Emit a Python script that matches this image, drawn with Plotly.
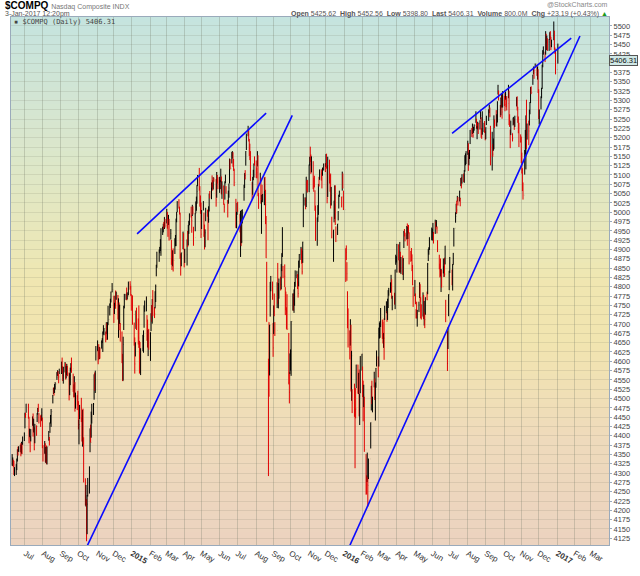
import numpy as np
import pandas as pd
import plotly.graph_objects as go

# daily bars, one row per week (Mon..Fri), None = market holiday
close_rows = [
    [4336, 4338, 4331, 4297, 4310], [4321, 4337, 4362, 4359, 4368], [4368, 4350, 4380, 4379, 4398],
    [4408, 4458, 4457, 4486, None], [4451, 4392, 4419, 4397, 4416], [4441, 4417, 4426, 4364, 4432],
    [4425, 4457, 4473, 4472, 4449], [4444, 4442, 4463, 4370, 4352], [4384, 4353, 4356, 4335, 4371],
    [4401, 4390, 4434, 4454, 4465], [4508, 4528, 4527, 4532, 4539], [4557, 4570, 4569, 4558, 4580],
    [None, 4598, 4572, 4562, 4583], [4593, 4552, 4586, 4591, 4568], [4518, 4553, 4562, 4593, 4580],
    [4528, 4508, 4556, 4467, 4512], [4506, 4493, 4422, 4430, 4475], [4455, 4385, 4468, 4379, 4276],
    [4214, 4228, 4215, 4217, 4258], [4316, 4419, 4382, 4452, 4483], [4485, 4564, 4549, 4566, 4631],
    [4639, 4624, 4620, 4638, 4633], [4651, 4661, 4675, 4680, 4688], [4671, 4702, 4675, 4702, 4712],
    [4755, 4758, 4787, None, 4792], [4727, 4755, 4774, 4769, 4781], [4740, 4766, 4684, 4708, 4653],
    [4605, 4547, 4645, 4749, 4765], [4781, 4765, 4774, None, 4807], [4806, 4777, 4736, None, 4726],
    # 2015
    [4652, 4593, 4650, 4736, 4704], [4664, 4662, 4639, 4570, 4634], [None, 4654, 4667, 4750, 4758],
    [4771, 4681, 4638, 4683, 4635], [4676, 4727, 4716, 4765, 4744], [4727, 4788, 4801, 4858, 4893],
    [None, 4899, 4906, 4924, 4956], [4960, 4968, 4967, 4987, 4964], [5008, 4980, 4967, 4983, 4928],
    [4943, 4860, 4849, 4894, 4871], [4930, 4937, 4982, 4993, 5026], [5011, 4995, 4876, 4863, 4891],
    [4947, 4901, 4880, 4886, None], [4917, 4910, 4950, 4974, 4996], [4988, 4977, 5011, 5008, 4932],
    [4995, 5014, 5036, 5056, 5092], [5060, 5055, 5024, 4941, 5005], [5016, 4940, 4920, 4945, 5003],
    [4993, 4976, 4981, 5050, 5048], [5078, 5071, 5071, 5090, 5089], [None, 5033, 5107, 5098, 5070],
    [5082, 5082, 5099, 5059, 5068], [5022, 5014, 5077, 5083, 5051], [5030, 5056, 5065, 5133, 5117],
    [5153, 5161, 5123, 5112, 5080], [4958, 4987, 5013, 5009, None], [4992, 4998, 4910, 4922, 4998],
    [5072, 5105, 5099, 5163, 5211], [5219, 5208, 5172, 5147, 5089], [5040, 5089, 5111, 5129, 5128],
    [5116, 5106, 5140, 5057, 5044], [5102, 5037, 5044, 5034, 5048], [5092, 5060, 5020, 4877, 4706],
    [4526, 4506, 4697, 4812, 4828], [4777, 4636, 4750, 4733, 4683], [None, 4812, 4757, 4796, 4822],
    [4806, 4861, 4890, 4893, 4828], [4828, 4757, 4752, 4734, 4687], [4543, 4517, 4620, 4627, 4707],
    [4781, 4748, 4791, 4811, 4830], [4838, 4796, 4782, 4870, 4887], [4906, 4880, 4840, 4920, 5031],
    [5034, 5030, 5095, 5075, 5054], [5128, 5145, 5142, 5127, 5147], [5095, 5083, 5067, 5005, 4927],
    [4984, 4987, 5075, 5073, 5105], [5102, 5102, 5116, None, 5128], [5109, 5156, 5123, 5037, 5142],
    [5101, 5099, 5023, 5045, 4933], [4953, 4995, 5071, 4968, 4923], [4969, 5002, 5046, 5048, None],
    [5041, 5107, 5065, 5007, None],
    # 2016
    [4903, 4892, 4835, 4689, 4644], [4637, 4685, 4526, 4615, 4488], [None, 4476, 4472, 4472, 4591],
    [4518, 4567, 4469, 4507, 4614], [4620, 4516, 4504, 4509, 4363], [4283, 4269, 4284, 4267, 4338],
    [None, 4436, 4534, 4487, 4504], [4570, 4503, 4542, 4582, 4590], [4558, 4690, 4703, 4707, 4717],
    [4708, 4649, 4675, 4662, 4748], [4750, 4729, 4764, 4775, 4796], [4808, 4822, 4768, 4773, None],
    [4767, 4846, 4869, 4870, 4914], [4892, 4843, 4920, 4849, 4851], [4834, 4872, 4947, 4946, 4938],
    [4961, 4941, 4948, 4945, 4906], [4896, 4888, 4863, 4806, 4775], [4818, 4763, 4726, 4718, 4737],
    [4751, 4810, 4760, 4737, 4718], [4775, 4716, 4739, 4712, 4770], [4765, 4861, 4895, 4901, 4933],
    [None, 4948, 4952, 4971, 4943], [4968, 4962, 4974, 4958, 4895], [4848, 4843, 4835, 4844, 4800],
    [4837, 4843, 4834, 4910, 4708], [4594, 4691, 4779, 4843, 4863], [None, 4822, 4859, 4876, 4957],
    [4989, 5023, 5006, 5035, 5030], [5056, 5037, 5089, 5074, 5101], [5098, 5111, 5140, 5155, 5162],
    [5185, 5137, 5159, 5167, 5221], [5213, 5225, 5205, 5228, 5233], [5262, 5227, 5229, 5240, 5238],
    [5244, 5260, 5217, 5212, 5219], [5232, 5222, 5213, 5227, 5250], [None, 5276, 5283, 5260, 5126],
    [5211, 5156, 5174, 5250, 5245], [5236, 5241, 5295, 5339, 5305], [5257, 5306, 5319, 5269, 5312],
    [5300, 5289, 5316, 5306, 5292], [5329, 5246, 5240, 5213, 5214], [5199, 5244, 5246, 5241, 5258],
    [5309, 5283, 5250, 5215, 5190], [5189, 5153, 5105, 5058, 5046], [5166, 5193, 5251, 5209, 5237],
    [5218, 5275, 5294, 5334, 5321], [5368, 5386, 5380, None, 5398], [5368, 5379, 5323, 5252, 5256],
    [5309, 5333, 5394, 5417, 5444], [5412, 5463, 5437, 5456, 5437], [5457, 5483, 5471, 5447, 5462],
    [None, 5487, 5438, 5433, 5383],
    # 2017
    [None, 5406.31],
]

high_rows = [
    [4351, 4342, 4336, 4333, 4316], [4324, 4339, 4364, 4371, 4372], [4376, 4380, 4384, 4380, 4398],
    [4409, 4462, 4462, 4486, None], [4486, 4451, 4419, 4400, 4418], [4452, 4460, 4446, 4423, 4432],
    [4428, 4461, 4475, 4486, 4461], [4455, 4457, 4474, 4449, 4375], [4386, 4380, 4370, 4374, 4371],
    [4413, 4397, 4436, 4456, 4472], [4510, 4529, 4530, 4539, 4544], [4571, 4576, 4574, 4566, 4580],
    [None, 4599, 4610, 4587, 4585], [4598, 4595, 4587, 4593, 4588], [4570, 4568, 4583, 4595, 4610],
    [4567, 4538, 4560, 4544, 4516], [4509, 4521, 4493, 4443, 4483], [4502, 4450, 4470, 4473, 4396],
    [4286, 4268, 4230, 4241, 4287], [4318, 4420, 4430, 4465, 4486], [4488, 4565, 4570, 4575, 4641],
    [4656, 4630, 4646, 4638, 4637], [4656, 4662, 4680, 4697, 4689], [4680, 4705, 4702, 4705, 4749],
    [4755, 4768, 4787, None, 4810], [4776, 4757, 4776, 4790, 4787], [4778, 4769, 4758, 4752, 4703],
    [4680, 4620, 4666, 4749, 4781], [4781, 4798, 4785, None, 4814], [4815, 4803, 4780, None, 4777],
    # 2015
    [4704, 4664, 4651, 4736, 4744], [4715, 4750, 4655, 4652, 4635], [None, 4671, 4683, 4750, 4763],
    [4774, 4724, 4712, 4684, 4687], [4678, 4729, 4751, 4767, 4791], [4746, 4788, 4806, 4859, 4894],
    [None, 4900, 4907, 4928, 4957], [4961, 4969, 4974, 4987, 4982], [5009, 5001, 4970, 4993, 4982],
    [4955, 4926, 4877, 4898, 4903], [4930, 4939, 4983, 5001, 5030], [5035, 5015, 4999, 4889, 4892],
    [4948, 4944, 4901, 4902, None], [4927, 4950, 4966, 4977, 4997], [5015, 4992, 5020, 5016, 4961],
    [4998, 5029, 5042, 5073, 5100], [5119, 5070, 5045, 5026, 5006], [5030, 4999, 4967, 4954, 5012],
    [5007, 4990, 5016, 5050, 5057], [5080, 5099, 5086, 5094, 5093], [None, 5089, 5108, 5100, 5094],
    [5095, 5087, 5117, 5096, 5083], [5072, 5023, 5083, 5101, 5070], [5033, 5058, 5077, 5144, 5143],
    [5162, 5164, 5161, 5143, 5117], [5036, 5001, 5025, 5028, None], [4996, 5004, 4975, 5006, 5008],
    [5074, 5105, 5113, 5164, 5211], [5232, 5221, 5197, 5184, 5164], [5081, 5095, 5114, 5131, 5150],
    [5139, 5120, 5164, 5153, 5052], [5106, 5093, 5047, 5074, 5049], [5093, 5095, 5060, 4990, 4867],
    [4607, 4705, 4698, 4813, 4829], [4814, 4703, 4750, 4782, 4705], [None, 4812, 4864, 4810, 4822],
    [4827, 4861, 4890, 4960, 4856], [4860, 4799, 4787, 4745, 4780], [4676, 4571, 4621, 4632, 4708],
    [4782, 4782, 4793, 4813, 4844], [4843, 4834, 4814, 4870, 4888], [4907, 4903, 4897, 4921, 5050],
    [5040, 5039, 5095, 5085, 5087], [5128, 5149, 5176, 5155, 5150], [5137, 5093, 5098, 5059, 5018],
    [4986, 5019, 5076, 5095, 5115], [5115, 5107, 5120, None, 5131], [5132, 5156, 5157, 5126, 5149],
    [5141, 5100, 5104, 5068, 4988], [4953, 5031, 5072, 5072, 4962], [4969, 5003, 5047, 5058, None],
    [5042, 5109, 5104, 5058, None],
    # 2016
    [4903, 4911, 4866, 4788, 4742], [4683, 4713, 4698, 4628, 4525], [None, 4540, 4472, 4528, 4591],
    [4591, 4569, 4578, 4513, 4614], [4620, 4586, 4548, 4537, 4505], [4351, 4294, 4355, 4289, 4339],
    [None, 4436, 4534, 4548, 4505], [4572, 4554, 4543, 4582, 4629], [4613, 4690, 4704, 4708, 4743],
    [4712, 4706, 4676, 4715, 4749], [4761, 4735, 4768, 4791, 4797], [4812, 4832, 4820, 4776, None],
    [4784, 4846, 4886, 4882, 4915], [4914, 4872, 4920, 4894, 4880], [4884, 4877, 4950, 4955, 4945],
    [4963, 4970, 4961, 4966, 4946], [4896, 4904, 4887, 4859, 4800], [4818, 4782, 4740, 4760, 4738],
    [4760, 4812, 4807, 4772, 4753], [4785, 4778, 4762, 4731, 4772], [4787, 4864, 4901, 4906, 4933],
    [None, 4959, 4956, 4971, 4947], [4980, 4975, 4979, 4962, 4925], [4886, 4862, 4876, 4848, 4845],
    [4876, 4856, 4878, 4910, 4765], [4682, 4691, 4780, 4843, 4880], [None, 4846, 4861, 4891, 4958],
    [5000, 5023, 5031, 5044, 5041], [5058, 5039, 5092, 5094, 5102], [5104, 5113, 5153, 5158, 5164],
    [5192, 5185, 5160, 5167, 5221], [5226, 5238, 5230, 5229, 5236], [5271, 5251, 5231, 5243, 5240],
    [5247, 5275, 5255, 5226, 5271], [5240, 5245, 5219, 5228, 5259], [None, 5276, 5289, 5281, 5232],
    [5216, 5183, 5198, 5260, 5249], [5274, 5263, 5298, 5342, 5327], [5288, 5308, 5319, 5316, 5325],
    [5312, 5320, 5324, 5308, 5312], [5342, 5326, 5263, 5222, 5246], [5212, 5254, 5256, 5251, 5259],
    [5309, 5311, 5283, 5257, 5240], [5209, 5203, 5160, 5118, 5080], [5167, 5221, 5260, 5302, 5238],
    [5246, 5275, 5296, 5336, 5338], [5369, 5391, 5387, None, 5399], [5396, 5391, 5384, 5330, 5276],
    [5311, 5334, 5396, 5435, 5445], [5431, 5486, 5479, 5474, 5467], [5465, 5483, 5486, 5471, 5463],
    [None, 5512, 5487, 5442, 5437],
    # 2017
    [None, 5452.56],
]

low_rows = [
    [4320, 4319, 4316, 4295, 4292], [4295, 4308, 4331, 4347, 4357], [4356, 4345, 4352, 4351, 4376],
    [4386, 4420, 4448, 4462, None], [4446, 4380, 4396, 4356, 4385], [4427, 4398, 4409, 4361, 4380],
    [4400, 4437, 4457, 4464, 4433], [4424, 4439, 4441, 4367, 4331], [4352, 4329, 4327, 4324, 4323],
    [4387, 4374, 4408, 4433, 4424], [4487, 4512, 4508, 4515, 4524], [4550, 4561, 4560, 4541, 4566],
    [None, 4566, 4569, 4547, 4540], [4570, 4551, 4554, 4563, 4560], [4495, 4509, 4536, 4573, 4569],
    [4518, 4503, 4504, 4465, 4473], [4469, 4482, 4417, 4377, 4444], [4437, 4385, 4371, 4377, 4275],
    [4213, 4210, 4117, 4136, 4237], [4245, 4356, 4382, 4395, 4433], [4456, 4497, 4521, 4515, 4602],
    [4627, 4592, 4603, 4606, 4607], [4634, 4649, 4625, 4672, 4670], [4651, 4673, 4657, 4658, 4697],
    [4723, 4743, 4758, None, 4785], [4703, 4727, 4748, 4741, 4765], [4712, 4663, 4684, 4700, 4653],
    [4595, 4547, 4548, 4684, 4742], [4765, 4764, 4766, None, 4777], [4792, 4776, 4736, None, 4698],
    # 2015
    [4642, 4567, 4613, 4687, 4684], [4645, 4636, 4567, 4570, 4563], [None, 4627, 4623, 4690, 4733],
    [4734, 4655, 4637, 4614, 4631], [4601, 4681, 4706, 4701, 4721], [4716, 4742, 4759, 4828, 4851],
    [None, 4867, 4890, 4896, 4883], [4939, 4946, 4955, 4955, 4959], [4970, 4956, 4934, 4966, 4924],
    [4927, 4859, 4845, 4855, 4841], [4888, 4909, 4909, 4973, 5000], [5010, 4994, 4875, 4830, 4855],
    [4901, 4900, 4852, 4864, None], [4857, 4907, 4911, 4942, 4965], [4986, 4945, 4990, 4994, 4910],
    [4949, 4997, 5004, 5023, 5070], [5058, 5015, 4996, 4931, 4955], [5005, 4934, 4900, 4906, 4976],
    [4988, 4925, 4972, 5002, 5037], [5035, 5066, 5058, 5061, 5082], [None, 5015, 5039, 5077, 5062],
    [5052, 5062, 5081, 5048, 5036], [5020, 4999, 5034, 5078, 5050], [4986, 5023, 5039, 5077, 5115],
    [5131, 5144, 5122, 5111, 5070], [4958, 4957, 4993, 5001, None], [4946, 4880, 4910, 4917, 4970],
    [5031, 5065, 5088, 5125, 5167], [5204, 5190, 5151, 5140, 5084], [5033, 5047, 5086, 5093, 5125],
    [5092, 5091, 5123, 5043, 5009], [5081, 5023, 4942, 5032, 5027], [5019, 5057, 4968, 4877, 4706],
    [4292, 4506, 4562, 4720, 4788], [4765, 4612, 4673, 4721, 4668], [None, 4743, 4754, 4742, 4768],
    [4790, 4793, 4842, 4880, 4823], [4799, 4724, 4737, 4687, 4684], [4538, 4487, 4566, 4575, 4561],
    [4736, 4736, 4730, 4749, 4800], [4823, 4794, 4771, 4801, 4851], [4872, 4862, 4833, 4864, 4960],
    [5018, 5008, 5014, 5058, 5053], [5054, 5125, 5135, 5103, 5107], [5062, 5055, 5067, 5004, 4923],
    [4910, 4974, 4993, 5069, 5087], [5085, 5064, 5098, None, 5112], [5108, 5122, 5117, 5024, 5041],
    [5077, 5055, 5010, 5018, 4930], [4867, 4973, 4982, 4966, 4920], [4939, 4978, 5010, 5041, None],
    [5013, 5058, 5064, 5006, None],
    # 2016
    [4813, 4872, 4816, 4689, 4637], [4605, 4642, 4519, 4494, 4461], [None, 4451, 4313, 4447, 4528],
    [4513, 4512, 4452, 4429, 4514], [4575, 4504, 4439, 4477, 4357], [4242, 4243, 4276, 4210, 4284],
    [None, 4366, 4468, 4485, 4463], [4530, 4496, 4441, 4529, 4586], [4557, 4586, 4661, 4663, 4692],
    [4660, 4648, 4636, 4604, 4711], [4729, 4706, 4711, 4743, 4776], [4784, 4789, 4768, 4737, None],
    [4752, 4740, 4859, 4865, 4838], [4871, 4838, 4838, 4838, 4834], [4832, 4818, 4904, 4935, 4922],
    [4927, 4910, 4928, 4943, 4860], [4867, 4869, 4842, 4804, 4746], [4775, 4753, 4715, 4715, 4693],
    [4732, 4770, 4760, 4715, 4712], [4720, 4713, 4696, 4689, 4725], [4764, 4780, 4869, 4886, 4899],
    [None, 4925, 4924, 4944, 4916], [4942, 4954, 4960, 4943, 4893], [4847, 4825, 4828, 4786, 4798],
    [4836, 4826, 4827, 4860, 4705], [4574, 4633, 4721, 4791, 4837], [None, 4804, 4790, 4859, 4908],
    [4972, 4995, 4997, 5029, 5018], [5029, 5016, 5070, 5064, 5077], [5081, 5079, 5109, 5126, 5129],
    [5154, 5111, 5126, 5143, 5183], [5202, 5210, 5200, 5213, 5219], [5240, 5224, 5196, 5222, 5210],
    [5222, 5249, 5200, 5197, 5208], [5215, 5213, 5193, 5196, 5234], [None, 5245, 5266, 5255, 5126],
    [5112, 5149, 5165, 5169, 5226], [5231, 5230, 5241, 5316, 5300], [5255, 5260, 5281, 5251, 5281],
    [5285, 5271, 5302, 5282, 5273], [5306, 5234, 5229, 5172, 5207], [5190, 5233, 5235, 5221, 5229],
    [5284, 5273, 5240, 5212, 5175], [5187, 5132, 5104, 5057, 5034], [5101, 5155, 5115, 5170, 5195],
    [5180, 5233, 5263, 5293, 5317], [5342, 5370, 5358, None, 5389], [5366, 5356, 5320, 5250, 5236],
    [5276, 5306, 5331, 5389, 5423], [5403, 5423, 5436, 5435, 5433], [5433, 5462, 5464, 5435, 5443],
    [None, 5462, 5436, 5425, 5370],
    # 2017
    [None, 5398.80],
]

month_labels = ["Jul", "Aug", "Sep", "Oct", "Nov", "Dec",
                "<b>2015</b>", "Feb", "Mar", "Apr", "May", "Jun", "Jul", "Aug", "Sep", "Oct", "Nov", "Dec",
                "<b>2016</b>", "Feb", "Mar", "Apr", "May", "Jun", "Jul", "Aug", "Sep", "Oct", "Nov", "Dec",
                "<b>2017</b>", "Feb", "Mar"]

# hand-drawn trend lines: start / end (date, price)
trend_dates = [["2015-01-10", "2015-08-20"], ["2014-10-08", "2015-10-04"],
               ["2016-01-03", "2017-02-10"], ["2016-07-05", "2017-01-26"]]
trend_prices = [[4942, 5266], [4078, 5260], [4078, 5473], [5212, 5467]]


def flatten(rows):
    return [v for row in rows for v in row]


def load_data():
    close = flatten(close_rows)
    df = pd.DataFrame({
        "date": pd.bdate_range("2014-06-09", periods=len(close)),
        "close": close,
        "high": flatten(high_rows),
        "low": flatten(low_rows),
    })
    df["open"] = df["close"].ffill().shift(1)
    df = df.dropna(subset=["close"])
    df["open"] = df["open"].fillna(df["close"])
    return df


df = load_data()

fig = go.Figure()
fig.add_trace(go.Ohlc(
    x=df["date"], open=df["open"], high=df["high"], low=df["low"], close=df["close"],
    increasing_line_color="#000000", decreasing_line_color="#e00000",
    line_width=1, tickwidth=0.2, showlegend=False, hoverinfo="skip",
))
for d, p in zip(trend_dates, trend_prices):
    fig.add_trace(go.Scatter(x=d, y=p, mode="lines", line=dict(color="#0a0aff", width=1.6),
                             showlegend=False, hoverinfo="skip"))

# gradient background (teal -> yellow -> peach)
stops = np.array([0.0, 0.25, 0.5, 0.62, 0.8, 1.0])
cols = np.array([[197, 228, 224], [219, 231, 204], [240, 231, 178], [242, 229, 176],
                 [239, 219, 188], [236, 211, 192]])
n_bands = 90
shapes = []
for i in range(n_bands):
    t = (i + 0.5) / n_bands
    c = [int(np.interp(t, stops, cols[:, k])) for k in range(3)]
    shapes.append(dict(type="rect", xref="paper", yref="paper", x0=0, x1=1,
                       y0=1 - (i + 1) / n_bands, y1=1 - i / n_bands + 0.002,
                       fillcolor=f"rgb({c[0]},{c[1]},{c[2]})", line_width=0, layer="below"))

W, H = 640, 576
L, R, T, B = 10, 29, 17, 11


def px(x):
    return (x - L) / (W - L - R)


def py(y):
    return (H - B - y) / (H - T - B)


font = "Liberation Sans"
annotations = [
    dict(x=px(2), y=py(5), text="<b>$COMPQ</b> <span style='font-size:7px;color:#777'>Nasdaq Composite INDX</span>",
         font=dict(size=10, color="#000", family=font), xanchor="left", yanchor="middle"),
    dict(x=px(2), y=py(13.5), text="3-Jan-2017 12:20pm",
         font=dict(size=7, color="#555", family=font), xanchor="left", yanchor="middle"),
    dict(x=px(612), y=py(13.5),
         text="<b>Open</b> 5425.62  <b>High</b> 5452.56  <b>Low</b> 5398.80  <b>Last</b> 5406.31  "
              "<b>Volume</b> 800.0M  <b>Chg</b> +23.19 (+0.43%) <span style='color:#1a9a1a'>▲</span>",
         font=dict(size=7, color="#555", family=font), xanchor="right", yanchor="middle"),
    dict(x=px(612), y=py(4.5), text="@StockCharts.com",
         font=dict(size=7, color="#888", family=font), xanchor="right", yanchor="middle"),
    dict(x=px(11), y=py(22.5), text="▪ $COMPQ (Daily) 5406.31",
         font=dict(size=7, color="#444", family="DejaVu Sans Mono"), xanchor="left", yanchor="middle"),
    dict(x=1.0, xref="paper", y=5406.31, yref="y", text="5406.31",
         font=dict(size=7.5, color="#111", family=font), xanchor="left", yanchor="middle",
         bgcolor="#cfe8e6", bordercolor="#555", borderwidth=1, borderpad=0),
]
for a in annotations:
    a.setdefault("xref", "paper")
    a.setdefault("yref", "paper")
    a["showarrow"] = False

fig.update_layout(
    width=W, height=H, autosize=False,
    margin=dict(l=L, r=R, t=T, b=B),
    paper_bgcolor="white", plot_bgcolor="rgba(0,0,0,0)",
    shapes=shapes, annotations=annotations,
    xaxis=dict(
        type="date", range=["2014-06-07", "2017-04-01"], rangeslider=dict(visible=False),
        tickmode="array", tickvals=pd.date_range("2014-07-01", periods=len(month_labels), freq="BMS"),
        ticktext=month_labels, tickfont=dict(size=8, color="#333", family=font), ticklen=0,
        showgrid=True, gridcolor="rgba(110,120,100,0.28)", gridwidth=1,
        showline=True, linecolor="#9aaabb", linewidth=1, mirror=True, zeroline=False,
    ),
    yaxis=dict(
        side="right", range=[4107, 5524], tick0=4125, dtick=25,
        tickfont=dict(size=7.5, color="#444", family=font), ticks="outside", ticklen=2, tickcolor="#9aaabb",
        showgrid=True, gridcolor="rgba(120,120,100,0.16)", gridwidth=1,
        showline=True, linecolor="#9aaabb", linewidth=1, mirror=True, zeroline=False,
    ),
)

# page body has a default 8px margin; remove it so the figure sits at the window's corner
fig.write_html("out.html", config={"displayModeBar": False},
               post_script="document.body.style.margin='0px';")
